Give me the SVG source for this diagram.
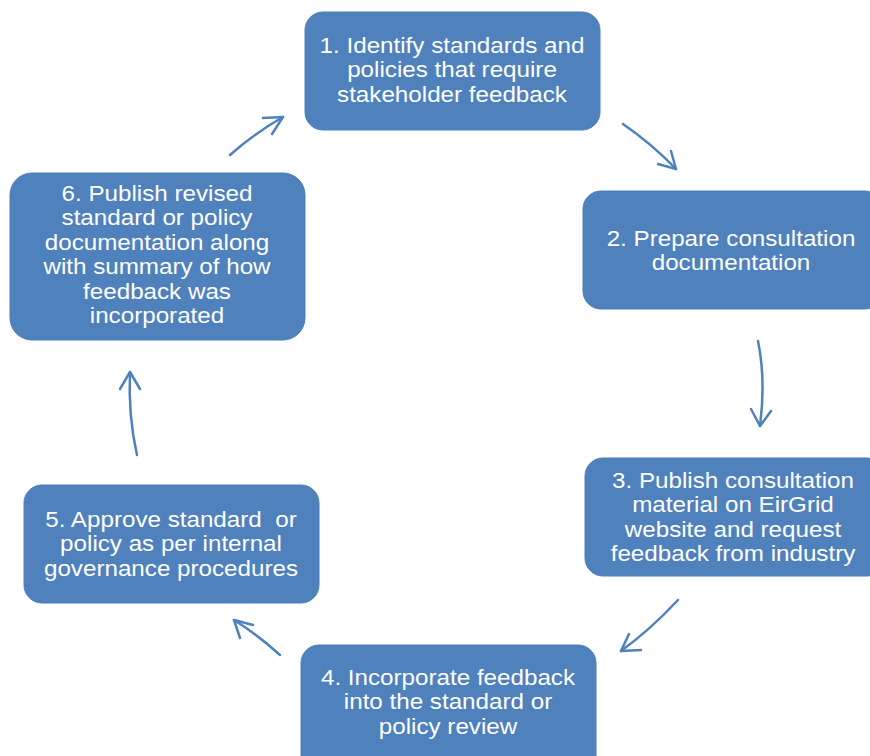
<svg xmlns="http://www.w3.org/2000/svg" width="870" height="756" viewBox="0 0 870 756">
<style>
.box{fill:#4F81BD;stroke:#4A7EBB;stroke-width:1}
.t{font-family:"Liberation Sans",Arial,sans-serif;font-size:22px;fill:#FFFFFF;text-anchor:middle}
.c{fill:none;stroke:#4F81BD;stroke-width:2.5;stroke-linecap:round;stroke-linejoin:round}
</style>
<rect width="870" height="756" fill="#FFFFFF"/>
<g id="n1"><rect class="box" x="305" y="12" width="295" height="118" rx="18"/>
<text class="t" transform="translate(452 0) scale(1.1 1)"><tspan x="0" y="53">1. Identify standards and</tspan><tspan x="0" y="77.5">policies that require</tspan><tspan x="0" y="102">stakeholder feedback</tspan></text></g>
<g id="n2"><rect class="box" x="583" y="191" width="300" height="118" rx="18"/>
<text class="t" transform="translate(731 0) scale(1.1 1)"><tspan x="0" y="246">2. Prepare consultation</tspan><tspan x="0" y="270.5">documentation</tspan></text></g>
<g id="n3"><rect class="box" x="585" y="458" width="300" height="118" rx="18"/>
<text class="t" transform="translate(733 0) scale(1.1 1)"><tspan x="0" y="488">3. Publish consultation</tspan><tspan x="0" y="512.5">material on EirGrid</tspan><tspan x="0" y="537">website and request</tspan><tspan x="0" y="561.5">feedback from industry</tspan></text></g>
<g id="n4"><rect class="box" x="301" y="645" width="295" height="130" rx="18"/>
<text class="t" transform="translate(448 0) scale(1.1 1)"><tspan x="0" y="685">4. Incorporate feedback</tspan><tspan x="0" y="709.5">into the standard or</tspan><tspan x="0" y="734">policy review</tspan></text></g>
<g id="n5"><rect class="box" x="24" y="485" width="295" height="118" rx="18"/>
<text class="t" transform="translate(171 0) scale(1.1 1)"><tspan x="0" y="527">5. Approve standard&#160; or</tspan><tspan x="0" y="551.5">policy as per internal</tspan><tspan x="0" y="576">governance procedures</tspan></text></g>
<g id="n6"><rect class="box" x="10" y="173" width="295" height="167" rx="22"/>
<text class="t" transform="translate(157 0) scale(1.1 1)"><tspan x="0" y="201">6. Publish revised</tspan><tspan x="0" y="225.5">standard or policy</tspan><tspan x="0" y="250">documentation along</tspan><tspan x="0" y="274.5">with summary of how</tspan><tspan x="0" y="299">feedback was</tspan><tspan x="0" y="323.5">incorporated</tspan></text></g>
<g id="connectors">
<path class="c" d="M623,124 Q652,144 676,169"/>
<polyline class="c" points="671,151 676,169 658,164"/>
<path class="c" d="M758,341 Q766,380 760,426"/>
<polyline class="c" points="751,409 760,426 771,411"/>
<path class="c" d="M678,600 Q650,630 621,651"/>
<polyline class="c" points="629,634 621,651 641,650"/>
<path class="c" d="M280,655 Q258,635 234,620"/>
<polyline class="c" points="253,625 234,620 240,638"/>
<path class="c" d="M137,455 Q128,415 130,372"/>
<polyline class="c" points="120,389 130,372 140,389"/>
<path class="c" d="M230,155 Q255,133 283,117"/>
<polyline class="c" points="263,118 283,117 272,134"/>
</g>
</svg>
